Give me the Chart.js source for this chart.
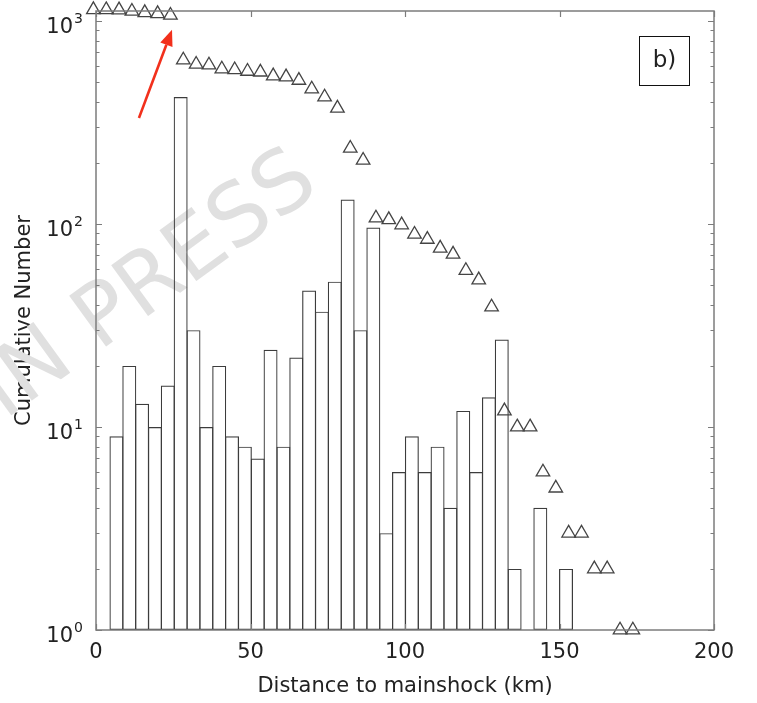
<!DOCTYPE html>
<html>
<head>
<meta charset="utf-8">
<script src="https://cdn.jsdelivr.net/npm/chart.js"></script>
<style>
  body { margin: 0; background: #fff; }
  canvas { display: block; }
</style>
</head>
<body>
<canvas id="myChart" width="757" height="703"></canvas>
<script>
// histogram bins (km, centre of each bin) and event counts
const binCenters = [6.61, 10.77, 14.92, 19.08, 23.24, 27.40, 31.55, 35.71, 39.87, 44.02,
    48.18, 52.34, 56.49, 60.65, 64.81, 68.97, 73.12, 77.28, 81.44, 85.59,
    89.75, 93.91, 98.06, 102.22, 106.38, 110.54, 114.69, 118.85, 123.01, 127.16,
    131.32, 135.48, 139.63, 143.79, 147.95, 152.11];
const binCounts = [9, 20, 13, 10, 16, 422, 30, 10, 20, 9,
    8, 7, 24, 8, 22, 47, 37, 52, 132, 30,
    96, 3, 6, 9, 6, 8, 4, 12, 6, 14,
    27, 2, null, 4, 1, 2];

// cumulative number of events beyond each distance
const cumDistance = [-0.85, 3.31, 7.46, 11.62, 15.78, 19.94, 24.09, 28.25, 32.41, 36.56,
    40.72, 44.88, 49.03, 53.19, 57.35, 61.51, 65.66, 69.82, 73.98, 78.13,
    82.29, 86.45, 90.60, 94.76, 98.92, 103.08, 107.23, 111.39, 115.55, 119.70,
    123.86, 128.02, 132.17, 136.33, 140.49, 144.65, 148.80, 152.96, 157.12, 161.27,
    165.43, 169.59, 173.74];
const cumNumber = [1137, 1136, 1134, 1116, 1099, 1086, 1067, 642, 612, 607,
    580, 575, 565, 560, 536, 530, 510, 462, 422, 372,
    236, 206, 107, 105, 99, 89, 84, 76, 71, 59,
    53, 39, 12, 10, 10, 6, 5, 3, 3, 2,
    2, 1, 1];

const xTicks = [0, 50, 100, 150, 200];
const yTickExponents = [0, 1, 2, 3];

// arrow pointing at the top group of points (km, count)
const arrowFrom = [13.9, 333];
const arrowTo = [24.6, 905];

const FONT = '"DejaVu Sans", sans-serif';
const AXIS = '#7c7c7c';
const INK = '#222';

const histData = binCenters.map((d, i) => ({x: d, y: binCounts[i]}));
const cumData = cumDistance.map((d, i) => ({x: d, y: cumNumber[i]}));

const extras = {
    id: 'extras',
    beforeDatasetsDraw(chart) {
        // faint watermark behind the marks
        const c = chart.ctx;
        c.save();
        c.translate(150, 287);
        c.rotate(-36 * Math.PI / 180);
        c.font = '86px ' + FONT;
        c.fillStyle = '#e0e0e0';
        c.textAlign = 'center';
        c.textBaseline = 'middle';
        c.fillText('IN PRESS', 0, 0);
        c.restore();
    },
    afterDraw(chart) {
        const c = chart.ctx;
        const a = chart.chartArea;
        const xs = chart.scales.x;
        const ys = chart.scales.y;
        c.save();

        // box round the plot
        c.strokeStyle = AXIS;
        c.lineWidth = 1.5;
        c.strokeRect(a.left, a.top, a.right - a.left, a.bottom - a.top);

        // inward ticks
        c.lineWidth = 1.2;
        c.beginPath();
        xTicks.forEach(v => {
            const px = Math.round(xs.getPixelForValue(v)) + 0.5;
            c.moveTo(px, a.bottom); c.lineTo(px, a.bottom - 6);
            c.moveTo(px, a.top); c.lineTo(px, a.top + 6);
        });
        yTickExponents.forEach(e => {
            for (let m = 1; m <= 9; m++) {
                const v = m * Math.pow(10, e);
                if (v > ys.max) break;
                const py = Math.round(ys.getPixelForValue(v)) + 0.5;
                const len = m === 1 ? 6 : 3.5;
                c.moveTo(a.left, py); c.lineTo(a.left + len, py);
                c.moveTo(a.right, py); c.lineTo(a.right - len, py);
            }
        });
        c.stroke();

        // y labels as powers of ten
        c.fillStyle = INK;
        yTickExponents.forEach(e => {
            const py = ys.getPixelForValue(Math.pow(10, e));
            c.font = '21px ' + FONT;
            c.textAlign = 'right';
            c.textBaseline = 'middle';
            c.fillText('10', 73, py + 7);
            c.font = '14px ' + FONT;
            c.textAlign = 'left';
            c.fillText(String(e), 74, py - 2);
        });

        // panel tag
        c.fillStyle = '#fff';
        c.fillRect(639.5, 36.5, 50, 49);
        c.strokeStyle = '#111';
        c.lineWidth = 1;
        c.strokeRect(639.5, 36.5, 50, 49);
        c.fillStyle = INK;
        c.font = '23px ' + FONT;
        c.textAlign = 'center';
        c.textBaseline = 'middle';
        c.fillText('b)', 664.5, 61);

        // red arrow
        const x0 = xs.getPixelForValue(arrowFrom[0]), y0 = ys.getPixelForValue(arrowFrom[1]);
        const x1 = xs.getPixelForValue(arrowTo[0]), y1 = ys.getPixelForValue(arrowTo[1]);
        const ang = Math.atan2(y1 - y0, x1 - x0);
        const head = 16, half = 6.5;
        const bx = x1 - head * Math.cos(ang), by = y1 - head * Math.sin(ang);
        c.strokeStyle = '#f2301c';
        c.fillStyle = '#f2301c';
        c.lineWidth = 2.6;
        c.beginPath();
        c.moveTo(x0, y0);
        c.lineTo(bx, by);
        c.stroke();
        c.beginPath();
        c.moveTo(x1, y1);
        c.lineTo(bx + half * Math.sin(ang), by - half * Math.cos(ang));
        c.lineTo(bx - half * Math.sin(ang), by + half * Math.cos(ang));
        c.closePath();
        c.fill();

        c.restore();
    }
};

const ctx = document.getElementById('myChart').getContext('2d');
const myChart = new Chart(ctx, {
    type: 'bar',
    data: {
        datasets: [{
            type: 'scatter',
            label: 'Cumulative',
            data: cumData,
            pointStyle: 'triangle',
            pointRadius: 7.8,
            pointBorderWidth: 1.3,
            pointBorderColor: '#444',
            pointBackgroundColor: 'rgba(0,0,0,0)',
            showLine: false,
            clip: false,
            order: 0
        }, {
            type: 'bar',
            label: 'Events',
            data: histData,
            backgroundColor: 'rgba(0,0,0,0)',
            borderColor: '#3c3c3c',
            borderWidth: 1.2,
            borderSkipped: false,
            // a little wider than the bin so neighbouring edges share one line
            categoryPercentage: 1,
            barPercentage: 1.09,
            grouped: false,
            order: 1
        }]
    },
    options: {
        responsive: false,
        animation: false,
        events: [],
        layout: { padding: { top: 11, right: 43, left: 0, bottom: 4 } },
        plugins: {
            legend: { display: false },
            tooltip: { enabled: false }
        },
        scales: {
            x: {
                type: 'linear',
                min: 0,
                max: 200,
                offset: false,
                afterBuildTicks(scale) {
                    scale.ticks = xTicks.map(v => ({value: v}));
                },
                afterFit(scale) { scale.height = 69; },
                grid: { display: false, drawTicks: false, offset: false },
                border: { display: false },
                ticks: {
                    padding: 10,
                    color: INK,
                    font: { family: FONT, size: 21 },
                    maxRotation: 0
                },
                title: {
                    display: true,
                    text: 'Distance to mainshock (km)',
                    color: INK,
                    font: { family: FONT, size: 21 },
                    padding: { top: 0, bottom: 0 }
                }
            },
            y: {
                type: 'logarithmic',
                min: 1,
                max: 1120,
                afterFit(scale) { scale.width = 96; },
                grid: { display: false, drawTicks: false },
                border: { display: false },
                ticks: { display: false },
                title: {
                    display: true,
                    text: 'Cumulative Number',
                    color: INK,
                    font: { family: FONT, size: 21 },
                    padding: { top: 12, bottom: 0 }
                }
            }
        }
    },
    plugins: [extras]
});
</script>
</body>
</html>
